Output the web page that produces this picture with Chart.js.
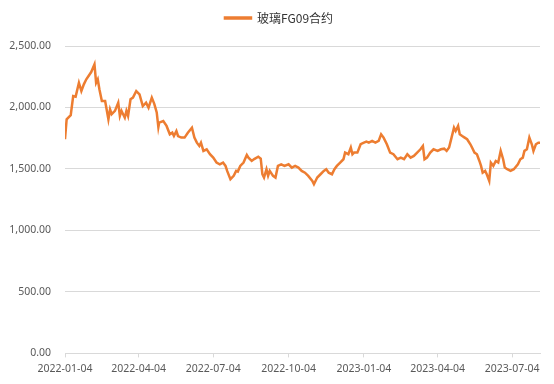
<!DOCTYPE html>
<html>
<head>
<meta charset="utf-8">
<script src="https://cdn.jsdelivr.net/npm/chart.js@4/dist/chart.umd.min.js"></script>
<style>
  body { margin: 0; background: #fff; }
  #wrap { width: 554px; height: 384px; }
</style>
</head>
<body>
<div id="wrap"><canvas id="fgChart" width="554" height="384"></canvas></div>
<script>
// 玻璃FG09合约 price
const seriesName = '玻璃FG09合约';

const dates = [
    '2022-01-04', '2022-01-06', '2022-01-11', '2022-01-14', '2022-01-17', '2022-01-21', '2022-01-24', '2022-01-27',
    '2022-01-30', '2022-02-05', '2022-02-09', '2022-02-11', '2022-02-13', '2022-02-15', '2022-02-18', '2022-02-22',
    '2022-02-26', '2022-02-28', '2022-03-02', '2022-03-06', '2022-03-10', '2022-03-12', '2022-03-14', '2022-03-18',
    '2022-03-20', '2022-03-22', '2022-03-25', '2022-03-28', '2022-04-01', '2022-04-05', '2022-04-09', '2022-04-13',
    '2022-04-16', '2022-04-20', '2022-04-23', '2022-04-26', '2022-04-28', '2022-04-29', '2022-05-04', '2022-05-08',
    '2022-05-12', '2022-05-15', '2022-05-17', '2022-05-20', '2022-05-22', '2022-05-26', '2022-05-30', '2022-06-03',
    '2022-06-08', '2022-06-11', '2022-06-14', '2022-06-17', '2022-06-19', '2022-06-22', '2022-06-26', '2022-06-30',
    '2022-07-04', '2022-07-08', '2022-07-12', '2022-07-16', '2022-07-19', '2022-07-21', '2022-07-25', '2022-07-29',
    '2022-08-01', '2022-08-03', '2022-08-06', '2022-08-10', '2022-08-14', '2022-08-16', '2022-08-20', '2022-08-23',
    '2022-08-28', '2022-08-31', '2022-09-02', '2022-09-04', '2022-09-07', '2022-09-09', '2022-09-11', '2022-09-15',
    '2022-09-18', '2022-09-21', '2022-09-25', '2022-09-29', '2022-10-04', '2022-10-08', '2022-10-12', '2022-10-16',
    '2022-10-20', '2022-10-24', '2022-10-28', '2022-11-02', '2022-11-04', '2022-11-08', '2022-11-12', '2022-11-16',
    '2022-11-19', '2022-11-22', '2022-11-26', '2022-11-29', '2022-12-02', '2022-12-06', '2022-12-10', '2022-12-12',
    '2022-12-16', '2022-12-19', '2022-12-21', '2022-12-23', '2022-12-27', '2022-12-31', '2023-01-04', '2023-01-07',
    '2023-01-10', '2023-01-14', '2023-01-18', '2023-01-22', '2023-01-25', '2023-01-28', '2023-02-01', '2023-02-05',
    '2023-02-09', '2023-02-14', '2023-02-18', '2023-02-22', '2023-02-26', '2023-03-02', '2023-03-06', '2023-03-10',
    '2023-03-14', '2023-03-17', '2023-03-19', '2023-03-22', '2023-03-26', '2023-03-30', '2023-04-04', '2023-04-08',
    '2023-04-12', '2023-04-15', '2023-04-18', '2023-04-21', '2023-04-24', '2023-04-26', '2023-04-29', '2023-05-01',
    '2023-05-04', '2023-05-07', '2023-05-10', '2023-05-14', '2023-05-16', '2023-05-19', '2023-05-22', '2023-05-25',
    '2023-05-27', '2023-05-29', '2023-06-01', '2023-06-03', '2023-06-06', '2023-06-08', '2023-06-11', '2023-06-14',
    '2023-06-17', '2023-06-20', '2023-06-23', '2023-06-25', '2023-06-28', '2023-07-02', '2023-07-06', '2023-07-11',
    '2023-07-14', '2023-07-17', '2023-07-19', '2023-07-22', '2023-07-25', '2023-07-28', '2023-07-30', '2023-08-02',
    '2023-08-05', '2023-08-07'
];

const prices = [
    1742, 1904, 1937, 2093, 2088, 2201, 2134, 2188,
    2229, 2288, 2351, 2201, 2229, 2148, 2053, 2053,
    1904, 1985, 1945, 1972, 2039, 1931, 1972, 1917,
    1972, 1931, 2067, 2080, 2134, 2107, 2012, 2039,
    1998, 2080, 2030, 1960, 1840, 1877, 1890, 1850,
    1782, 1795, 1768, 1809, 1768, 1755, 1755, 1795,
    1836, 1755, 1714, 1687, 1714, 1647, 1660, 1620,
    1592, 1552, 1538, 1552, 1525, 1484, 1417, 1444,
    1484, 1479, 1525, 1552, 1614, 1592, 1565, 1580,
    1600, 1584, 1457, 1430, 1498, 1444, 1484, 1444,
    1430, 1525, 1538, 1525, 1538, 1511, 1525, 1511,
    1484, 1470, 1444, 1403, 1376, 1430, 1457, 1484,
    1498, 1470, 1457, 1498, 1525, 1552, 1579, 1633,
    1620, 1674, 1620, 1633, 1633, 1701, 1714, 1722,
    1714, 1728, 1714, 1728, 1782, 1755, 1701, 1633,
    1620, 1579, 1592, 1579, 1620, 1592, 1606, 1633,
    1660, 1687, 1579, 1592, 1633, 1660, 1647, 1660,
    1665, 1647, 1674, 1755, 1836, 1809, 1850, 1782,
    1768, 1755, 1742, 1701, 1674, 1633, 1620, 1565,
    1525, 1470, 1484, 1457, 1403, 1552, 1525, 1565,
    1552, 1647, 1579, 1511, 1498, 1484, 1498, 1538,
    1579, 1592, 1647, 1660, 1755, 1701, 1647, 1701,
    1714, 1714
];

const tickDates = ['2022-01-04', '2022-04-04', '2022-07-04', '2022-10-04', '2023-01-04', '2023-04-04', '2023-07-04'];
const yTicks = [0, 500, 1000, 1500, 2000, 2500];

// day number counted from the first tick date
const dayZero = Date.parse(tickDates[0] + 'T00:00:00Z');
function dayOf(s) {
    return Math.round((Date.parse(s + 'T00:00:00Z') - dayZero) / 86400000);
}

const points = dates.map((d, i) => ({ x: dayOf(d), y: prices[i] }));

const axisFont = { family: "'Noto Sans', 'Noto Sans CJK SC', sans-serif", size: 10.5 };
const orange = '#ED7D31';

// leave some room under the legend and nudge it a bit to the right
const legendTweak = {
    id: 'legendTweak',
    beforeInit(chart) {
        const fit = chart.legend.fit;
        chart.legend.fit = function () {
            fit.bind(chart.legend)();
            this.height += 12;
        };
    },
    afterLayout(chart) {
        chart.legend.left += 9;
        chart.legend.right += 9;
    }
};

new Chart(document.getElementById('fgChart'), {
    type: 'line',
    data: {
        datasets: [{
            label: seriesName,
            data: points,
            borderColor: orange,
            backgroundColor: orange,
            borderWidth: 2.5,
            pointRadius: 0,
            tension: 0
        }]
    },
    options: {
        responsive: false,
        animation: false,
        layout: { padding: { top: 0, left: 0, right: 14, bottom: 4 } },
        plugins: {
            legend: {
                position: 'top',
                labels: {
                    boxWidth: 26,
                    boxHeight: 1,
                    padding: 12,
                    color: '#333333',
                    font: { family: "'Noto Sans CJK SC', sans-serif", size: 12 }
                }
            },
            tooltip: { enabled: false }
        },
        scales: {
            x: {
                type: 'linear',
                min: 0,
                max: dayOf(dates[dates.length - 1]),
                afterBuildTicks(scale) {
                    scale.ticks = tickDates.map(d => ({ value: dayOf(d) }));
                },
                ticks: {
                    autoSkip: false,
                    maxRotation: 0,
                    padding: 5,
                    color: '#595959',
                    font: axisFont,
                    callback: (value, index) => tickDates[index]
                },
                grid: {
                    drawOnChartArea: false,
                    drawTicks: true,
                    tickLength: 4,
                    color: '#d9d9d9'
                },
                border: { display: true, color: '#d9d9d9' }
            },
            y: {
                min: 0,
                max: 2500,
                afterBuildTicks(scale) {
                    scale.ticks = yTicks.map(v => ({ value: v }));
                },
                afterFit(scale) {
                    scale.width = 65;
                },
                ticks: {
                    padding: 14,
                    color: '#595959',
                    font: axisFont,
                    callback: v => v.toLocaleString('en-US', { minimumFractionDigits: 2, maximumFractionDigits: 2 })
                },
                grid: {
                    drawTicks: false,
                    color: '#d9d9d9'
                },
                border: { display: false }
            }
        }
    },
    plugins: [legendTweak]
});
</script>
</body>
</html>
